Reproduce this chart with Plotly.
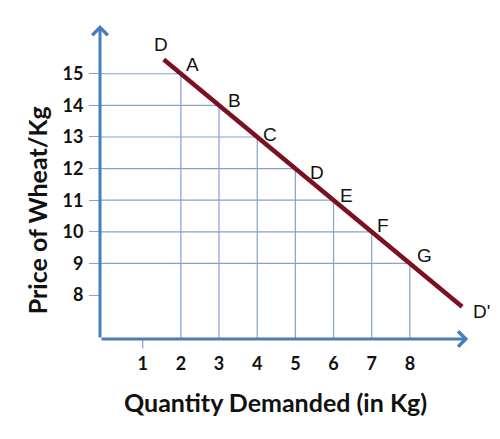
import plotly.graph_objects as go

# points on the demand schedule
point_labels = ["A", "B", "C", "D", "E", "F", "G"]
quantity = [2, 3, 4, 5, 6, 7, 8]
price = [15, 14, 13, 12, 11, 10, 9]

# demand curve DD'
curve_labels = ["D", "D'"]
curve_quantity = [1.55, 9.37]
curve_price = [15.45, 7.63]

x_ticks = [1, 2, 3, 4, 5, 6, 7, 8]
y_ticks = [8, 9, 10, 11, 12, 13, 14, 15]

x_range = [-0.12, 10.31]
y_range = [6.61, 16.70]

axis_blue = "#4A7EBB"
grid_blue = "#86A2CE"
curve_red = "#7B1020"

fig = go.Figure()

# guide lines from the axes up to each point
gx, gy = [], []
for q, p in zip(quantity, price):
    gx += [x_range[0], q, None, q, q, None]
    gy += [p, p, None, y_range[0], p, None]
fig.add_trace(go.Scatter(x=gx, y=gy, mode="lines",
                         line=dict(color=grid_blue, width=1.2),
                         hoverinfo="skip", showlegend=False))

fig.add_trace(go.Scatter(x=curve_quantity, y=curve_price, mode="lines",
                         line=dict(color=curve_red, width=4.5),
                         showlegend=False))

# axes drawn as arrows
fig.add_annotation(x=x_range[0], y=16.54, ax=x_range[0], ay=y_range[0],
                   xref="x", yref="y", axref="x", ayref="y", text="",
                   showarrow=True, arrowhead=4, arrowsize=1, arrowwidth=3,
                   arrowcolor=axis_blue)
fig.add_annotation(x=9.53, y=y_range[0], ax=x_range[0], ay=y_range[0],
                   xref="x", yref="y", axref="x", ayref="y", text="",
                   showarrow=True, arrowhead=4, arrowsize=1, arrowwidth=3,
                   arrowcolor=axis_blue)
# the lone tick under 1
fig.add_shape(type="line", xref="x", yref="paper", x0=1, x1=1, y0=0, y1=-0.03,
              line=dict(color=grid_blue, width=1.2))

letter_font = dict(family="Liberation Sans", size=19, color="#111111")
shifts = [(12, 9), (15, 5), (13, 2), (22, -4), (13, 5), (11, 6), (15, 8)]
for lab, q, p, (dx, dy) in zip(point_labels, quantity, price, shifts):
    fig.add_annotation(x=q, y=p, text=lab, showarrow=False, font=letter_font,
                       xshift=dx, yshift=dy)
for lab, q, p, (dx, dy) in zip(curve_labels, curve_quantity, curve_price, [(-3, 15), (19, -5)]):
    fig.add_annotation(x=q, y=p, text=lab, showarrow=False, font=letter_font,
                       xshift=dx, yshift=dy)

title_font = dict(family="Lato", size=25, color="#111111", weight="bold")
fig.add_annotation(xref="paper", yref="paper", x=0.44, y=-0.197,
                   xanchor="center", yanchor="middle",
                   text="Quantity Demanded (in Kg)", showarrow=False,
                   font=title_font)
fig.add_annotation(xref="paper", yref="paper", x=-0.158, y=0.404,
                   xanchor="center", yanchor="middle",
                   text="Price of Wheat/Kg", showarrow=False, textangle=-90,
                   font=title_font)

tick_font = dict(family="Lato", size=18, color="#111111", weight="bold")
fig.update_xaxes(range=x_range, tickvals=x_ticks, ticks="", showgrid=False,
                 zeroline=False, showline=False, tickfont=tick_font,
                 ticklabelstandoff=12)
fig.update_yaxes(range=y_range, tickvals=y_ticks, ticks="outside", ticklen=10,
                 tickcolor=grid_blue, tickwidth=1.2, showgrid=False,
                 zeroline=False, showline=False, tickfont=tick_font,
                 ticklabelstandoff=2)

# the page adds an 8px body margin, so the figure is trimmed by that much
fig.update_layout(width=492, height=431, plot_bgcolor="white",
                  paper_bgcolor="white",
                  margin=dict(l=92, r=2, t=12, b=100))

fig.write_html("out.html")
